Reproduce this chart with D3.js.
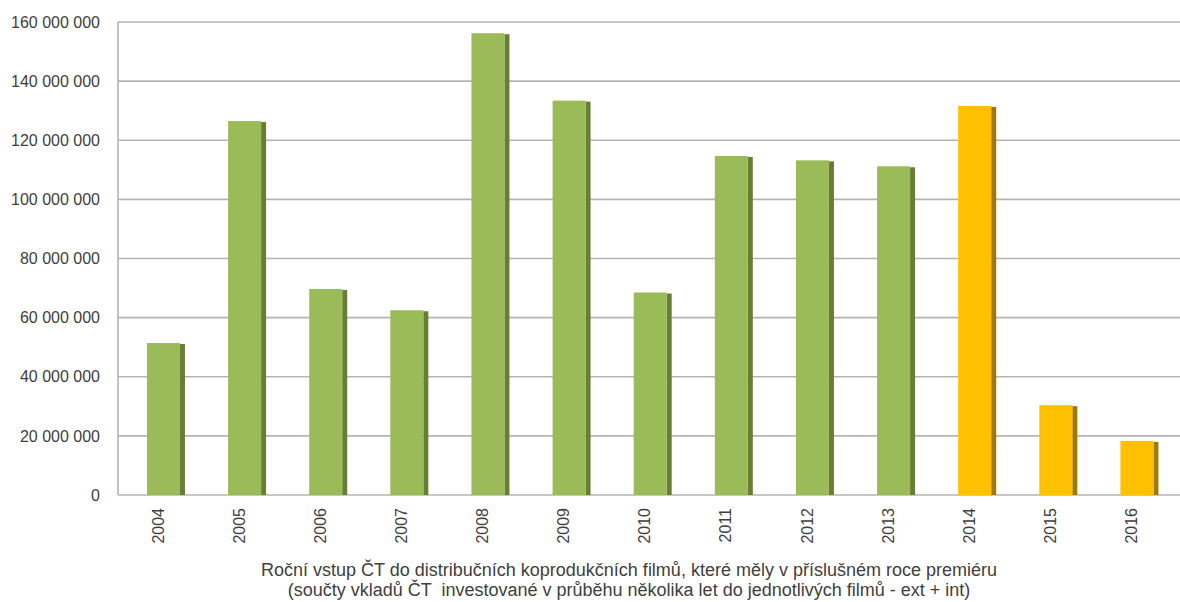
<!DOCTYPE html>
<html>
<head>
<meta charset="utf-8">
<script src="https://cdn.jsdelivr.net/npm/d3@7"></script>
<style>
  html, body { margin: 0; padding: 0; background: #fff; }
  svg { display: block; }
  text { font-family: "Liberation Sans", Arial, sans-serif; fill: #404040; }
</style>
</head>
<body>
<svg id="chart" width="1180" height="602"></svg>
<script>
// Premiere years of the co-produced films
const years = ["2004", "2005", "2006", "2007", "2008", "2009", "2010",
               "2011", "2012", "2013", "2014", "2015", "2016"];
// Annual ČT input (CZK)
const amounts = [51400000, 126500000, 69700000, 62500000, 156200000, 133400000, 68500000,
                 114700000, 113200000, 111200000, 131600000, 30400000, 18300000];
// Series group per year: completed years vs. the later group
const groups = ["a", "a", "a", "a", "a", "a", "a", "a", "a", "a", "b", "b", "b"];
const yTicks = [0, 20000000, 40000000, 60000000, 80000000, 100000000, 120000000, 140000000, 160000000];
const titleLines = [
  "Roční vstup ČT do distribučních koprodukčních filmů, které měly v příslušném roce premiéru",
  "(součty vkladů ČT  investované v průběhu několika let do jednotlivých filmů - ext + int)"
];

const faceColor = { a: "#9BBB59", b: "#FFC000" };
const sideColor = { a: "#677F34", b: "#A07A00" };

const svg = d3.select("#chart");
const plotLeft = 118, plotRight = 1180, plotTop = 22, plotBottom = 495;

const x = d3.scaleBand().domain(years).range([117.4, 1172]).padding(0);
const y = d3.scaleLinear().domain([0, 160000000]).range([plotBottom, plotTop]);

const locale = d3.formatLocale({ decimal: ",", thousands: "\u00a0", grouping: [3], currency: ["", " Kč"] });
const fmt = locale.format(",d");

// horizontal gridlines
svg.append("g")
  .selectAll("line")
  .data(yTicks)
  .join("line")
  .attr("x1", plotLeft).attr("x2", plotRight)
  .attr("y1", d => y(d)).attr("y2", d => y(d))
  .attr("stroke", "#b4b4b4")
  .attr("stroke-width", 1.6);

// left wall edge
svg.append("line")
  .attr("x1", plotLeft).attr("x2", plotLeft)
  .attr("y1", y(160000000)).attr("y2", y(0))
  .attr("stroke", "#b4b4b4").attr("stroke-width", 1.6);

// y axis labels
const yAxis = d3.axisLeft(y).tickValues(yTicks).tickFormat(fmt).tickSize(0).tickPadding(0);
const gy = svg.append("g")
  .attr("transform", "translate(100,0)")
  .call(yAxis);
gy.select(".domain").remove();
gy.selectAll("text")
  .attr("font-size", 16)
  .attr("font-family", "Liberation Sans, Arial, sans-serif")
  .attr("fill", "#404040");

// bars: front face plus a darker side face
const faceW = 33, sideW = 5, offset = 11;
const bars = svg.append("g").selectAll("g")
  .data(years.map((yr, i) => ({ yr, v: amounts[i], g: groups[i] })))
  .join("g");

bars.append("rect")
  .attr("x", d => x(d.yr) + x.bandwidth() / 2 - offset + faceW)
  .attr("y", d => y(d.v) + 1)
  .attr("width", sideW)
  .attr("height", d => y(0) - y(d.v) - 1)
  .attr("fill", d => sideColor[d.g]);

bars.append("rect")
  .attr("x", d => x(d.yr) + x.bandwidth() / 2 - offset)
  .attr("y", d => y(d.v))
  .attr("width", faceW)
  .attr("height", d => y(0) - y(d.v))
  .attr("fill", d => faceColor[d.g]);

// x axis labels, rotated
const xAxis = d3.axisBottom(x).tickSize(0).tickPadding(0);
const gx = svg.append("g")
  .attr("transform", `translate(0,${plotBottom})`)
  .call(xAxis);
gx.select(".domain").remove();
gx.selectAll("text")
  .attr("font-size", 16)
  .attr("font-family", "Liberation Sans, Arial, sans-serif")
  .attr("fill", "#404040")
  .attr("transform", "rotate(-90)")
  .attr("text-anchor", "end")
  .attr("x", -13)
  .attr("y", 0)
  .attr("dy", "0.35em");

// axis title
svg.append("g")
  .selectAll("text")
  .data(titleLines)
  .join("text")
  .attr("x", 629)
  .attr("y", (d, i) => 576 + i * 20)
  .attr("text-anchor", "middle")
  .attr("font-size", 18)
  .attr("fill", "#333")
  .style("white-space", "pre")
  .text(d => d);
</script>
</body>
</html>
